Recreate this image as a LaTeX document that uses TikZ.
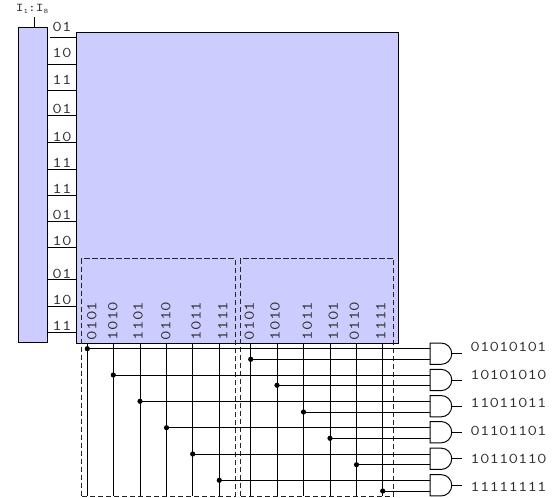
\documentclass[tikz,border=0pt]{standalone}
\usepackage{fontspec}
\setmonofont{Latin Modern Mono}[FakeStretch=1.24]
\definecolor{panel}{HTML}{CCCCFF}
\definecolor{ink}{gray}{0.18}
\tikzset{
  wire/.style={draw=black,line width=0.72pt},
  panelbox/.style={draw=black,fill=panel,line width=0.72pt,anchor=north west,inner sep=0pt,outer sep=0pt},
  groupbox/.style={draw=black!85,dashed,dash pattern=on 4pt off 2pt,line width=0.72pt,anchor=north west,inner sep=0pt,outer sep=0pt,minimum width=114.9pt,minimum height=178.2pt},
  txt/.style={font=\ttfamily\fontsize{11.2pt}{12pt}\selectfont,text=ink,inner sep=0pt},
  dotmark/.style={circle,fill=black,inner sep=0pt,minimum size=3.9pt},
  gatebox/.style={inner sep=0pt,outer sep=0pt,minimum width=16.3pt,minimum height=16pt}
}
\begin{document}
\begin{tikzpicture}[x=0.75pt,y=-0.75pt]
\useasboundingbox (0,0) rectangle (552,498);
% panels
\node[panelbox,minimum width=241.5pt,minimum height=232.9pt] (main) at (76.5,32.5) {};
\node[panelbox,minimum width=21.75pt,minimum height=236.4pt] (left) at (18.5,27.5) {};
% top label
\node[txt,font=\ttfamily\fontsize{8.9pt}{10pt}\selectfont] (inp) at (32,9) {I\raisebox{-1.5pt}{\fontsize{5.2pt}{6pt}\selectfont 1}:I\raisebox{-1.5pt}{\fontsize{5.2pt}{6pt}\selectfont 8}};
\coordinate (inpend) at (34,17);
\draw[wire] (inpend) -- (inpend |- left.north);
% stubs and their labels
\coordinate (stubstart) at (50,37);
\draw[wire] (stubstart) -- (stubstart -| main.west);
\foreach \i/\ly/\sy/\t in {1/27/37/01,2/53/64/10,3/80/90/11,4/109/115/01,5/137/142.5/10,6/163/169/11,7/189/195.7/11,8/215/221.7/01,9/241/247.7/10,10/274/279/01,11/300/306/10,12/326/332/11}{
  \node[txt] (lab\i) at (62,\ly) {\t};
  \ifnum\i>1
    \coordinate (st\i) at (62,\sy);
    \draw[wire] (st\i -| left.east) -- (st\i -| main.west);
  \fi
}
% column labels
\foreach \i/\x/\t in {1/91.7/0101,2/112.7/1010,3/138/1101,4/165.7/0110,5/196/1011,6/222.7/1111,7/249.3/0101,8/275/1010,9/307.3/1011,10/333.3/1101,11/354.3/0110,12/380.7/1111}{
  \node[txt,rotate=90] (col\i) at (\x,321) {\t};
}
% gates
\foreach \i/\y/\ly/\t in {1/353.7/347/01010101,2/380/375/10101010,3/406.2/403/11011011,4/432.2/431/01101101,5/458.8/459/10110110,6/485.3/487/11111111}{
  \node[gatebox] (g\i) at (440.9,\y) {};
  \node[txt,anchor=west] (out\i) at (470.2,\ly) {\t};
  \coordinate (oe\i) at (461.7,\y);
  \draw[wire] (g\i.east) -- (oe\i);
}
% dashed groups and wires
\node[groupbox] (grpa) at (81.8,258.6) {};
\node[groupbox] (grpb) at (240.7,258.6) {};
\foreach \i/\x/\y/\g in {1/87.3/348.7/1,2/113.3/375/2,3/140/401.3/3,4/166.5/427.7/4,5/192.7/454/5,6/219.3/480.3/6,7/250.7/359.3/1,8/277/385.3/2,9/303.5/412/3,10/330/438.3/4,11/356.5/464.7/5,12/382.7/491/6}{
  \node[dotmark] (d\i) at (\x,\y) {};
  \draw[wire] (d\i |- main.south) -- (d\i |- grpa.south);
  \draw[wire] (d\i.center) -- (d\i -| g\g.west);
}
% gate bodies
\foreach \i in {1,...,6}{
  \draw[wire,fill=white] (g\i.north west) -- ([xshift=-8pt]g\i.north east)
    arc[start angle=90,end angle=-90,radius=8pt] -- (g\i.south west) -- cycle;
}
\end{tikzpicture}
\end{document}
